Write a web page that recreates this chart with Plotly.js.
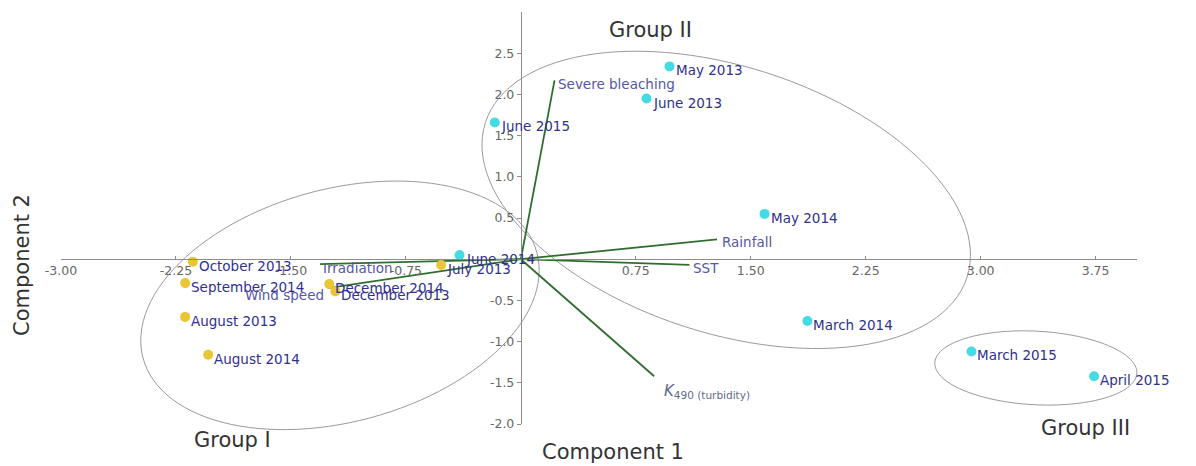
<!DOCTYPE html>
<html>
<head>
<meta charset="utf-8">
<script src="https://cdn.plot.ly/plotly-3.0.1.min.js"></script>
<style>html,body{margin:0;padding:0;background:#fff;}#chart{width:1196px;height:466px;}</style>
</head>
<body>
<div id="chart"></div>
<script>
// ---- Data ----
const sampleLabels = ["October 2013","September 2014","August 2013","August 2014","December 2013","December 2014","July 2013",
                      "June 2014","June 2015","May 2013","June 2013","May 2014","March 2014",
                      "March 2015","April 2015"];
const comp1 = [-2.14,-2.19,-2.19,-2.04,-1.21,-1.25,-0.52, -0.40,-0.17,0.97,0.82,1.59,1.87, 2.94,3.74];
const comp2 = [-0.03,-0.29,-0.70,-1.16,-0.39,-0.30,-0.07, 0.05,1.66,2.34,1.95,0.55,-0.75, -1.12,-1.42];
const sampleGroup = ["I","I","I","I","I","I","I", "II","II","II","II","II","II", "III","III"];

const loadingNames = ["Severe bleaching","Rainfall","SST","K490","Irradiation","Wind speed"];
const loadingX = [0.22, 1.28, 1.10, 0.87, -1.31, -1.26];
const loadingY = [2.17, 0.24, -0.07, -1.42, -0.06, -0.35];

const groupNames = ["Group I","Group II","Group III"];
const ellipseCX = [-1.18, 1.34, 3.36];
const ellipseCY = [-0.56, 0.72, -1.32];
const ellipseA  = [1.33, 1.65, 0.66];   // semi-axes in component-1 units
const ellipseB  = [0.76, 0.87, 0.24];
const ellipseAngle = [15, -17.8, -3];   // degrees, on screen

const xTicks = [-3.00,-2.25,-1.50,-0.75,0.75,1.50,2.25,3.00,3.75];
const yTicks = [-2.0,-1.5,-1.0,-0.5,0.5,1.0,1.5,2.0,2.5];

// ---- Layout geometry ----
const W = 1196, H = 466;
const M = {l: 61, r: 59, t: 12, b: 42};
const xr = [-3.0, 4.02], yr = [-2.0, 3.0];
const plotW = W - M.l - M.r, plotH = H - M.t - M.b;
const pxX = plotW / (xr[1] - xr[0]);
const pxY = plotH / (yr[1] - yr[0]);

const groupColor = {I: "#e8c634", II: "#45dbe3", III: "#45dbe3"};
const labelColor = "#30308e";
const loadColor = "#5656a8";
const FONT = "DejaVu Sans, Liberation Sans, Arial, sans-serif";

// ---- Ellipse shapes (paper coords, so they are not clipped) ----
const shapes = [];
for (let g = 0; g < ellipseCX.length; g++) {
  const cxp = (ellipseCX[g] - xr[0]) * pxX;
  const cyp = (ellipseCY[g] - yr[0]) * pxY;
  const a = ellipseA[g] * pxX, b = ellipseB[g] * pxX;
  const th = ellipseAngle[g] * Math.PI / 180;
  let d = "";
  const N = 120;
  for (let i = 0; i <= N; i++) {
    const t = 2 * Math.PI * i / N;
    const px = cxp + a * Math.cos(t) * Math.cos(th) - b * Math.sin(t) * Math.sin(th);
    const py = cyp + a * Math.cos(t) * Math.sin(th) + b * Math.sin(t) * Math.cos(th);
    d += (i === 0 ? "M" : "L") + (px / plotW).toFixed(5) + "," + (py / plotH).toFixed(5);
  }
  d += "Z";
  shapes.push({type: "path", xref: "paper", yref: "paper", path: d,
               line: {color: "#9a9a9a", width: 1}, fillcolor: "rgba(0,0,0,0)", layer: "below"});
}

// ---- Traces ----
const traces = [];
loadingNames.forEach((n, i) => {
  traces.push({type: "scatter", mode: "lines", x: [0, loadingX[i]], y: [0, loadingY[i]],
               line: {color: "#2f6e2f", width: 1.8}, hoverinfo: "skip", showlegend: false});
});
traces.push({type: "scatter", mode: "markers", x: comp1, y: comp2, text: sampleLabels,
             marker: {size: 10, color: sampleGroup.map(g => groupColor[g])},
             hoverinfo: "text", showlegend: false, cliponaxis: false});

// ---- Annotations ----
const annotations = [];
sampleLabels.forEach((s, i) => {
  annotations.push({x: comp1[i], y: comp2[i], text: s, showarrow: false,
                    xanchor: "left", yanchor: "middle", xshift: 4, yshift: -4,
                    font: {family: FONT, size: 13.5, color: labelColor}});
});
const loadPlace = {
  "Severe bleaching": {xanchor: "left", xshift: 1, yshift: -4},
  "Rainfall": {xanchor: "left", xshift: 3, yshift: -3},
  "SST": {xanchor: "left", xshift: 2, yshift: -3},
  "K490": {xanchor: "left", xshift: 8, yshift: -15},
  "Irradiation": {xanchor: "left", xshift: 1, yshift: -4},
  "Wind speed": {xanchor: "right", xshift: -2, yshift: -7}
};
loadingNames.forEach((n, i) => {
  const p = loadPlace[n];
  const txt = n === "K490" ? "<i>K</i><sub>490 (turbidity)</sub>" : n;
  annotations.push({x: loadingX[i], y: loadingY[i], text: txt, showarrow: false,
                    xanchor: p.xanchor, yanchor: "middle", xshift: p.xshift, yshift: p.yshift,
                    font: {family: FONT, size: n === "K490" ? 15 : 13.5, color: n === "K490" ? "#5d6a8c" : loadColor}});
});
const toPaperX = px => (px - M.l) / plotW;
const toPaperY = py => (H - M.b - py) / plotH;
const titleFont = {family: FONT, size: 21, color: "#333333"};
annotations.push({xref: "paper", yref: "paper", x: toPaperX(613), y: toPaperY(452), text: "Component 1",
                  showarrow: false, xanchor: "center", yanchor: "middle", font: titleFont});
annotations.push({xref: "paper", yref: "paper", x: toPaperX(22), y: toPaperY(265), text: "Component 2",
                  showarrow: false, xanchor: "center", yanchor: "middle", textangle: -90, font: titleFont});
const groupPos = [[232, 440], [650, 30], [1085, 428]];
groupNames.forEach((g, i) => {
  annotations.push({xref: "paper", yref: "paper", x: toPaperX(groupPos[i][0]), y: toPaperY(groupPos[i][1]),
                    text: g, showarrow: false, xanchor: "center", yanchor: "middle", font: titleFont});
});

const tickFont = {family: FONT, size: 12.5, color: "#666666"};
const layout = {
  width: W, height: H,
  margin: M,
  paper_bgcolor: "#ffffff", plot_bgcolor: "#ffffff",
  showlegend: false,
  xaxis: {range: xr, anchor: "free", position: (0 - yr[0]) / (yr[1] - yr[0]),
          showgrid: false, zeroline: false, showline: true, linecolor: "#8c8c8c", linewidth: 1,
          tickmode: "array", tickvals: xTicks, ticktext: xTicks.map(v => v.toFixed(2)),
          ticks: "inside", ticklen: 3, tickcolor: "#8c8c8c", tickfont: tickFont, fixedrange: true},
  yaxis: {range: yr, anchor: "free", position: (0 - xr[0]) / (xr[1] - xr[0]),
          showgrid: false, zeroline: false, showline: true, linecolor: "#8c8c8c", linewidth: 1,
          tickmode: "array", tickvals: yTicks, ticktext: yTicks.map(v => v.toFixed(1)),
          ticks: "outside", ticklen: 4, tickcolor: "#8c8c8c", tickfont: tickFont, fixedrange: true},
  shapes: shapes,
  annotations: annotations
};
Plotly.newPlot("chart", traces, layout, {displayModeBar: false, staticPlot: true});
</script>
</body>
</html>
